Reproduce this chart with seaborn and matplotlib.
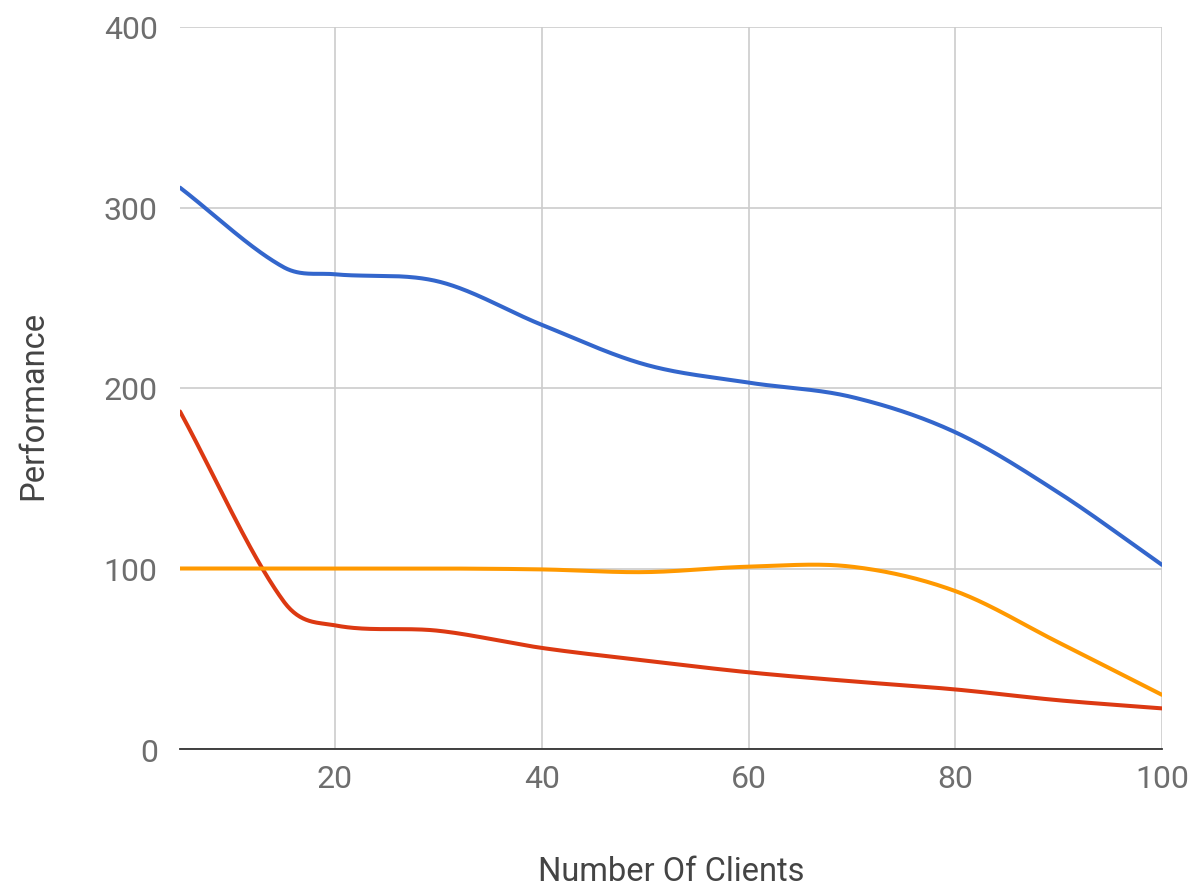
import numpy as np
import pandas as pd
import matplotlib
matplotlib.use("Agg")
import matplotlib.pyplot as plt
import seaborn as sns

# Performance measured at each client count
clients = [5, 15, 20, 30, 40, 50, 60, 70, 80, 90, 100]
series_a = [311, 267, 263, 259, 235, 213, 203, 195, 175.5, 142, 102]
series_b = [187, 82, 68.5, 65.5, 56, 49, 42.5, 37.5, 33, 27, 22.5]
series_c = [100, 100, 100, 100, 99.5, 98, 101, 101, 87.5, 59, 30]
colors = ["#3366CC", "#DC3912", "#FF9900"]

x_ticks = [20, 40, 60, 80, 100]
y_ticks = [0, 100, 200, 300, 400]


def smooth(xs, ys, n=50):
    """Cardinal (Catmull-Rom style) cubic curve through the given points."""
    xs = np.asarray(xs, float)
    ys = np.asarray(ys, float)
    m = np.empty_like(ys)
    m[1:-1] = (ys[2:] - ys[:-2]) / (xs[2:] - xs[:-2])
    m[0] = (ys[1] - ys[0]) / (xs[1] - xs[0])
    m[-1] = (ys[-1] - ys[-2]) / (xs[-1] - xs[-2])
    out_x, out_y = [], []
    for i in range(len(xs) - 1):
        h = xs[i + 1] - xs[i]
        t = np.linspace(0, 1, n, endpoint=(i == len(xs) - 2))
        h00 = 2 * t**3 - 3 * t**2 + 1
        h10 = t**3 - 2 * t**2 + t
        h01 = -2 * t**3 + 3 * t**2
        h11 = t**3 - t**2
        out_x.append(xs[i] + t * h)
        out_y.append(h00 * ys[i] + h10 * h * m[i] + h01 * ys[i + 1] + h11 * h * m[i + 1])
    return np.concatenate(out_x), np.concatenate(out_y)


frames = []
for name, ys in [("A", series_a), ("B", series_b), ("C", series_c)]:
    sx, sy = smooth(clients, ys)
    frames.append(pd.DataFrame({"clients": sx, "perf": sy, "series": name}))
df = pd.concat(frames, ignore_index=True)

sns.set_theme(style="white")
plt.rcParams["font.family"] = ["Roboto", "DejaVu Sans"]

fig = plt.figure(figsize=(11.98, 8.87), dpi=100)
ax = fig.add_axes([180 / 1198, 1 - 750 / 887, (1162 - 180) / 1198, (750 - 28) / 887])

sns.lineplot(data=df, x="clients", y="perf", hue="series", palette=colors,
             linewidth=2.9, legend=False, ax=ax, sort=False, estimator=None)

ax.set_xlim(5, 100)
ax.set_ylim(0, 400)
ax.set_xticks(x_ticks)
ax.set_yticks(y_ticks)
ax.set_xticklabels([str(v) for v in x_ticks])
ax.set_yticklabels([str(v) for v in y_ticks])
ax.grid(True, color="#CCCCCC", linewidth=1.2)
ax.set_axisbelow(True)
for side in ["left", "right", "top"]:
    ax.spines[side].set_visible(False)
ax.spines["bottom"].set_color("#333333")
ax.spines["bottom"].set_linewidth(1.3)

ax.tick_params(axis="both", length=0, labelsize=23, labelcolor="#6E6E6E")
ax.tick_params(axis="y", pad=16)
ax.tick_params(axis="x", pad=11)

ax.set_xlabel("Number Of Clients", fontsize=23.5, color="#444444", va="center")
ax.set_ylabel("Performance", fontsize=23.5, color="#444444", va="center")
ax.xaxis.set_label_coords(0.5, (750 - 872) / 722)
ax.yaxis.set_label_coords((33 - 180) / 982, (750 - 405) / 722)

fig.savefig("out.png", dpi=100)
